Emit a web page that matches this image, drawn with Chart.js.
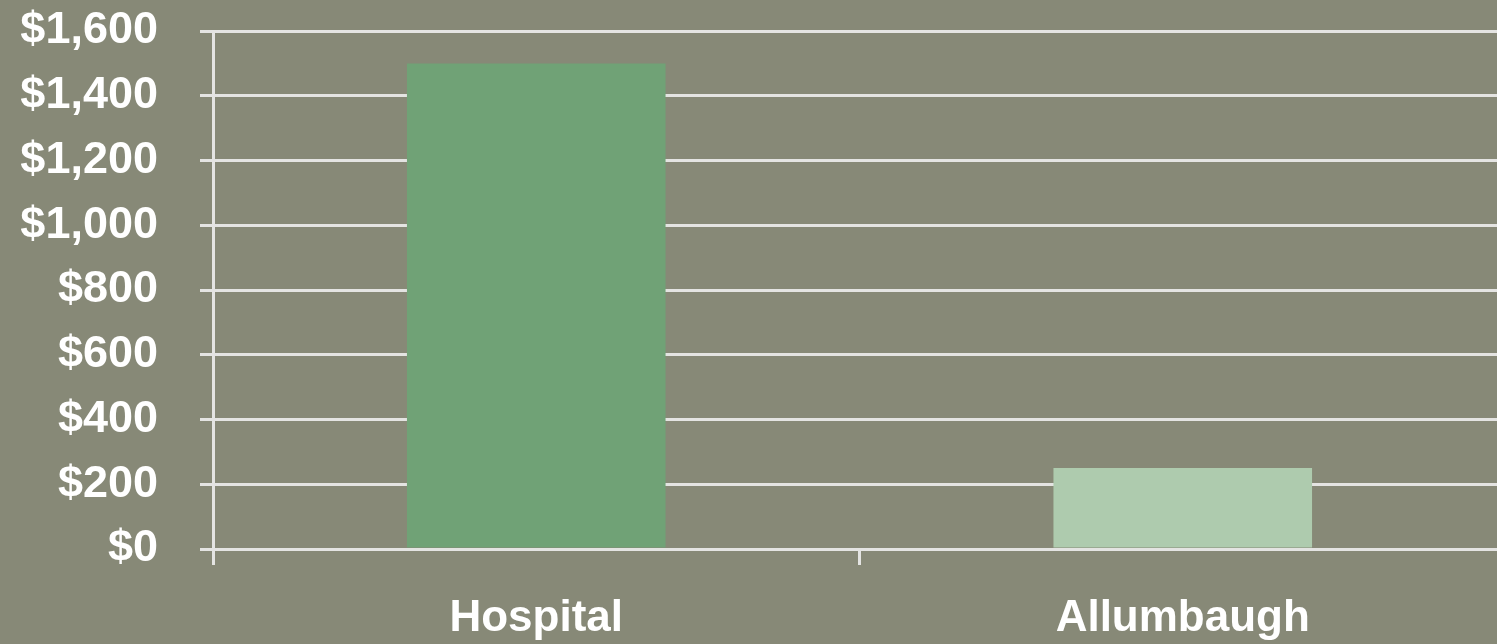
<!DOCTYPE html>
<html>
<head>
<meta charset="utf-8">
<script src="https://cdn.jsdelivr.net/npm/chart.js@4"></script>
<style>
  html, body { margin: 0; padding: 0; background: #878977; overflow: hidden; }
  #wrap { width: 1506px; height: 644px; }
</style>
</head>
<body>
<div id="wrap"><canvas id="costChart" width="1506" height="644"></canvas></div>
<script>
const categories = ['Hospital', 'Allumbaugh'];
const costValues = [1500, 250];
const barColors = ['#70a276', '#aecbae'];
const yTicks = [0, 200, 400, 600, 800, 1000, 1200, 1400, 1600];

const lineColor = '#e4e4e2';

const ctx = document.getElementById('costChart').getContext('2d');
new Chart(ctx, {
  type: 'bar',
  data: {
    labels: categories,
    datasets: [{
      data: costValues,
      backgroundColor: barColors,
      borderWidth: 0,
      categoryPercentage: 1,
      barPercentage: 0.4
    }]
  },
  options: {
    responsive: false,
    animation: false,
    devicePixelRatio: 1,
    layout: { padding: { top: 31, left: 0, right: 0, bottom: 0 } },
    plugins: {
      legend: { display: false },
      tooltip: { enabled: false }
    },
    scales: {
      x: {
        grid: {
          display: true,
          drawOnChartArea: false,
          drawTicks: true,
          tickLength: 16,
          color: lineColor,
          lineWidth: 3,
          offset: true
        },
        border: { display: true, color: lineColor, width: 3 },
        ticks: {
          color: '#ffffff',
          padding: 27,
          font: { family: 'Liberation Sans, Arial, sans-serif', size: 44, weight: 'bold' }
        },
        afterFit: (scale) => { scale.height = 95; scale.paddingLeft = 0; scale.paddingRight = 0; }
      },
      y: {
        min: 0,
        max: 1600,
        afterBuildTicks: (scale) => { scale.ticks = yTicks.map(v => ({ value: v })); },
        grid: {
          color: lineColor,
          lineWidth: 3,
          tickLength: 13
        },
        border: { display: true, color: lineColor, width: 3 },
        ticks: {
          color: '#ffffff',
          padding: 42,
          callback: (v) => '$' + v.toLocaleString('en-US'),
          font: { family: 'Liberation Sans, Arial, sans-serif', size: 45, weight: 'bold' }
        },
        afterFit: (scale) => { scale.width = 213; scale.paddingTop = 0; scale.paddingBottom = 0; }
      }
    }
  }
});
</script>
</body>
</html>
